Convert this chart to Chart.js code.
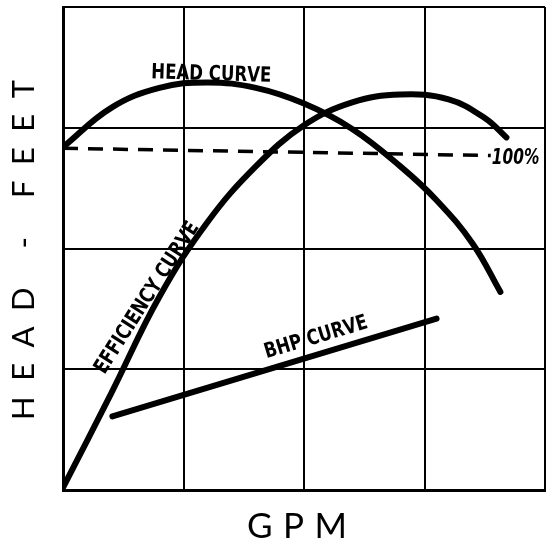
<!DOCTYPE html>
<html>
<head>
<meta charset="utf-8">
<script src="https://cdn.jsdelivr.net/npm/chart.js@4"></script>
<style>
  html, body { margin: 0; padding: 0; background: #fff; }
  canvas { display: block; }
</style>
</head>
<body>
<canvas id="pump-chart-js" width="552" height="546"></canvas>
<script>
// values (grid units, 4 x 4 cells)
const headX = [0, 0.4, 0.8, 1.2, 1.6, 2.0, 2.4, 2.8, 3.1, 3.4, 3.63];
const headY = [2.84, 3.165, 3.33, 3.375, 3.33, 3.20, 2.99, 2.68, 2.40, 2.04, 1.64];

const effX = [0, 0.4, 0.8, 1.2, 1.6, 2.0, 2.4, 2.8, 3.2, 3.5, 3.68];
const effY = [0.02, 0.80, 1.60, 2.22, 2.68, 3.02, 3.21, 3.275, 3.235, 3.08, 2.92];

const bhpX = [0.41, 3.10];
const bhpY = [0.61, 1.42];

const refX = [0, 3.55];
const refY = [2.83, 2.77];

const axisMin = 0;
const axisMax = 4;

const xTitle = 'GPM';
const yTitle = 'HEAD - FEET';

function toPoints(xs, ys) {
  return xs.map((x, i) => ({ x: x, y: ys[i] }));
}

// labels written on the curves, placed in data units
const curveLabels = [
  { text: 'HEAD CURVE', x: 1.23, y: 3.44, angle: 0.03, size: 20 },
  { text: 'EFFICIENCY CURVE', x: 0.70, y: 1.59, angle: -1.0, size: 20 },
  { text: 'BHP CURVE', x: 2.10, y: 1.26, angle: -0.29, size: 20 },
];

// spread text so it covers a given length, like the plotter lettering
function spacedText(ctx, text, cx, cy, span) {
  ctx.letterSpacing = '0px';
  const w = ctx.measureText(text).width;
  const gap = Math.max(0, (span - w) / (text.length - 1));
  let pos = cx - span / 2;
  for (const ch of text) {
    ctx.fillText(ch, pos, cy);
    pos += ctx.measureText(ch).width + gap;
  }
}

const textPlugin = {
  id: 'pumpText',
  afterDraw(chart) {
    const ctx = chart.ctx;
    const xs = chart.scales.x;
    const ys = chart.scales.y;
    ctx.save();
    ctx.fillStyle = '#000';

    curveLabels.forEach((lbl) => {
      ctx.save();
      ctx.translate(xs.getPixelForValue(lbl.x), ys.getPixelForValue(lbl.y));
      ctx.rotate(lbl.angle);
      ctx.font = `bold ${lbl.size}px "DejaVu Sans Condensed", "Liberation Sans Narrow", sans-serif`;
      ctx.textAlign = 'center';
      ctx.textBaseline = 'middle';
      ctx.scale(0.92, 1.05);
      ctx.fillText(lbl.text, 0, 0);
      ctx.restore();
    });

    // 100% marker at the end of the dashed line
    ctx.save();
    ctx.font = 'bold italic 19px "DejaVu Sans Condensed", sans-serif';
    ctx.textAlign = 'left';
    ctx.textBaseline = 'middle';
    ctx.translate(xs.getPixelForValue(refX[1]) + 1, ys.getPixelForValue(refY[1]) + 3);
    ctx.scale(0.9, 1.1);
    ctx.fillText('100%', 0, 0);
    ctx.restore();

    // axis titles
    ctx.textAlign = 'left';
    ctx.textBaseline = 'middle';
    ctx.font = '35px Lato, "DejaVu Sans", sans-serif';
    spacedText(ctx, xTitle, 297, 527, 100);

    ctx.save();
    ctx.translate(24, 250);
    ctx.rotate(-Math.PI / 2);
    ctx.font = '31px Lato, "DejaVu Sans", sans-serif';
    spacedText(ctx, yTitle, 0, 0, 340);
    ctx.restore();

    ctx.restore();
  }
};

const lineStyle = {
  showLine: true,
  pointRadius: 0,
  borderColor: '#000',
  borderWidth: 6,
  borderCapStyle: 'round',
  fill: false,
};

new Chart(document.getElementById('pump-chart-js').getContext('2d'), {
  type: 'scatter',
  data: {
    datasets: [
      Object.assign({ data: toPoints(headX, headY), tension: 0.4 }, lineStyle),
      Object.assign({ data: toPoints(effX, effY), tension: 0.4 }, lineStyle),
      Object.assign({ data: toPoints(bhpX, bhpY), tension: 0 }, lineStyle),
      Object.assign({}, lineStyle, {
        data: toPoints(refX, refY),
        borderWidth: 3.5,
        borderCapStyle: 'butt',
        borderDash: [15, 10],
        tension: 0,
      }),
    ],
  },
  options: {
    responsive: false,
    animation: false,
    layout: {
      padding: { left: 63, right: 7, top: 7, bottom: 56 }
    },
    plugins: {
      legend: { display: false },
      tooltip: { enabled: false }
    },
    scales: {
      x: {
        type: 'linear',
        min: axisMin,
        max: axisMax,
        ticks: { display: false, stepSize: 1 },
        grid: { color: '#000', lineWidth: 2, drawTicks: false },
        border: { color: '#000', width: 3 }
      },
      y: {
        type: 'linear',
        min: axisMin,
        max: axisMax,
        ticks: { display: false, stepSize: 1 },
        grid: { color: '#000', lineWidth: 2, drawTicks: false },
        border: { color: '#000', width: 3 }
      }
    }
  },
  plugins: [textPlugin]
});
</script>
</body>
</html>
